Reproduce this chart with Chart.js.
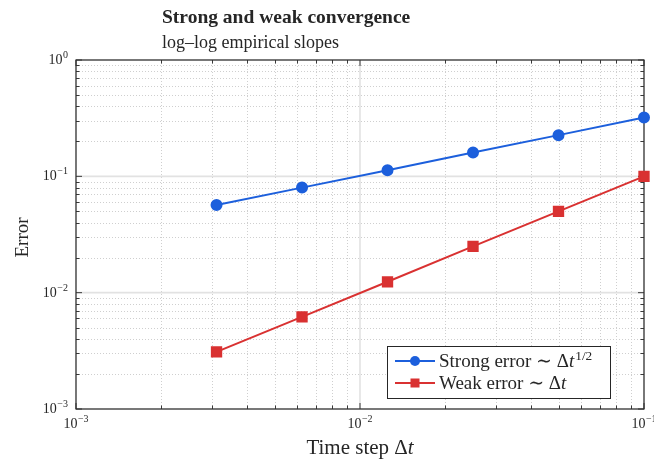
<!DOCTYPE html>
<html>
<head>
<meta charset="utf-8">
<script src="https://cdn.jsdelivr.net/npm/chart.js@4/dist/chart.umd.min.js"></script>
<style>
html,body{margin:0;padding:0;background:#fff;}
#wrap{width:654px;height:459px;}
</style>
</head>
<body>
<div id="wrap"><canvas id="c" width="654" height="459"></canvas></div>
<script>
// ---- data ----
const timeSteps   = [0.003125, 0.00625, 0.0125, 0.025, 0.05, 0.1];
const strongError = [0.0566, 0.080, 0.113, 0.160, 0.226, 0.320];
const weakError   = [0.0031, 0.0062, 0.0124, 0.0250, 0.0500, 0.1000];
const seriesNames = ['Strong error \u223C \u0394', 'Weak error \u223C \u0394'];
const seriesSup   = ['1/2', ''];
const xTickExps   = [-3, -2, -1];
const yTickExps   = [-3, -2, -1, 0];
const titleText    = 'Strong and weak convergence';
const subtitleText = 'log\u2013log empirical slopes';
const xLabelText   = 'Time step \u0394';
const yLabelText   = 'Error';

const SERIF = '"Liberation Serif", "DejaVu Serif", serif';
const BLUE = '#1c5fdc';
const RED = '#d93131';

function pts(xs, ys){ return xs.map((x,i)=>({x:x, y:ys[i]})); }

function drawPow(ctx, exp, x, y, mode){
  const base = '10';
  const sup = (exp < 0 ? '\u2212' : '') + Math.abs(exp);
  ctx.font = '14px ' + SERIF;
  const wb = ctx.measureText(base).width;
  ctx.font = '10px ' + SERIF;
  const ws = ctx.measureText(sup).width;
  const tot = wb + ws + 0.5;
  let sx = mode === 'center' ? x - tot/2 : x - tot;
  ctx.fillStyle = '#262626';
  ctx.textAlign = 'left';
  ctx.textBaseline = 'alphabetic';
  ctx.font = '14px ' + SERIF;
  ctx.fillText(base, sx, y);
  ctx.font = '10px ' + SERIF;
  ctx.fillText(sup, sx + wb + 0.5, y - 6);
}

const decorate = {
  id: 'decorate',
  beforeDatasetsDraw(chart){
    const ctx = chart.ctx, a = chart.chartArea;
    const xs = chart.scales.x, ys = chart.scales.y;
    ctx.save();
    const xMinor = [], yMinor = [];
    for (let e = xTickExps[0]; e < xTickExps[xTickExps.length-1]; e++)
      for (let k = 2; k <= 9; k++) xMinor.push(k*Math.pow(10,e));
    for (let e = yTickExps[0]; e < yTickExps[yTickExps.length-1]; e++)
      for (let k = 2; k <= 9; k++) yMinor.push(k*Math.pow(10,e));
    ctx.lineWidth = 1;
    ctx.strokeStyle = '#cfcfcf';
    ctx.setLineDash([1,2]);
    xMinor.forEach(v=>{ const p = Math.round(xs.getPixelForValue(v))+0.5;
      ctx.beginPath(); ctx.moveTo(p,a.top); ctx.lineTo(p,a.bottom); ctx.stroke(); });
    yMinor.forEach(v=>{ const p = Math.round(ys.getPixelForValue(v))+0.5;
      ctx.beginPath(); ctx.moveTo(a.left,p); ctx.lineTo(a.right,p); ctx.stroke(); });
    ctx.setLineDash([]);
    ctx.strokeStyle = '#e2e2e2';
    ctx.lineWidth = 1.6;
    xTickExps.forEach(e=>{ const p = xs.getPixelForValue(Math.pow(10,e));
      ctx.beginPath(); ctx.moveTo(p,a.top); ctx.lineTo(p,a.bottom); ctx.stroke(); });
    yTickExps.forEach(e=>{ const p = ys.getPixelForValue(Math.pow(10,e));
      ctx.beginPath(); ctx.moveTo(a.left,p); ctx.lineTo(a.right,p); ctx.stroke(); });
    ctx.strokeStyle = '#3a3a3a';
    ctx.lineWidth = 1;
    const tick = (x1,y1,x2,y2)=>{ ctx.beginPath(); ctx.moveTo(x1,y1); ctx.lineTo(x2,y2); ctx.stroke(); };
    xMinor.forEach(v=>{ const p = Math.round(xs.getPixelForValue(v))+0.5;
      tick(p,a.bottom,p,a.bottom-3.5); tick(p,a.top,p,a.top+3.5); });
    yMinor.forEach(v=>{ const p = Math.round(ys.getPixelForValue(v))+0.5;
      tick(a.left,p,a.left+3.5,p); tick(a.right,p,a.right-3.5,p); });
    xTickExps.forEach(e=>{ const p = xs.getPixelForValue(Math.pow(10,e));
      tick(p,a.bottom,p,a.bottom-6); tick(p,a.top,p,a.top+6); });
    yTickExps.forEach(e=>{ const p = ys.getPixelForValue(Math.pow(10,e));
      tick(a.left,p,a.left+6,p); tick(a.right,p,a.right-6,p); });
    ctx.strokeStyle = '#2e2e2e';
    ctx.lineWidth = 1.2;
    ctx.strokeRect(a.left, a.top, a.right-a.left, a.bottom-a.top);
    ctx.restore();
  },
  afterDatasetsDraw(chart){
    const ctx = chart.ctx, a = chart.chartArea;
    const xs = chart.scales.x, ys = chart.scales.y;
    ctx.save();
    xTickExps.forEach(e=> drawPow(ctx, e, xs.getPixelForValue(Math.pow(10,e)), a.bottom + 19, 'center'));
    yTickExps.forEach(e=> drawPow(ctx, e, a.left - 8, ys.getPixelForValue(Math.pow(10,e)) + 4, 'right'));
    ctx.fillStyle = '#262626';
    ctx.textBaseline = 'alphabetic';
    ctx.font = '21px ' + SERIF;
    const wx = ctx.measureText(xLabelText).width;
    ctx.font = 'italic 21px ' + SERIF;
    const wt = ctx.measureText('t').width;
    const cx = (a.left + a.right)/2;
    let sx = cx - (wx+wt)/2;
    ctx.textAlign = 'left';
    ctx.font = '21px ' + SERIF;
    ctx.fillText(xLabelText, sx, 454);
    ctx.font = 'italic 21px ' + SERIF;
    ctx.fillText('t', sx + wx, 454);
    ctx.save();
    ctx.translate(28, (a.top + a.bottom)/2 + 3);
    ctx.rotate(-Math.PI/2);
    ctx.textAlign = 'center';
    ctx.font = '19px ' + SERIF;
    ctx.fillText(yLabelText, 0, 0);
    ctx.restore();
    ctx.textAlign = 'left';
    ctx.font = 'bold 19.5px ' + SERIF;
    ctx.fillText(titleText, 162, 23);
    ctx.font = '18px ' + SERIF;
    ctx.fillText(subtitleText, 162, 48);
    // legend
    const fs = 19;
    const widths = seriesNames.map((n,i)=>{
      ctx.font = fs + 'px ' + SERIF; let w = ctx.measureText(n).width;
      ctx.font = 'italic ' + fs + 'px ' + SERIF; w += ctx.measureText('t').width + 1;
      if (seriesSup[i]) { ctx.font = (fs*0.7) + 'px ' + SERIF; w += ctx.measureText(seriesSup[i]).width + 1; }
      return w;
    });
    const boxW = Math.max(8 + 40 + 4 + Math.max(...widths) + 8, 223);
    const boxH = 52;
    const bx = a.right - 34 - boxW, by = a.bottom - 11 - boxH;
    ctx.fillStyle = '#ffffff';
    ctx.fillRect(bx, by, boxW, boxH);
    ctx.strokeStyle = '#262626';
    ctx.lineWidth = 1;
    ctx.strokeRect(Math.round(bx)+0.5, Math.round(by)+0.5, Math.round(boxW), boxH);
    chart.data.datasets.forEach((ds,i)=>{
      const cy = by + 15 + i*22;
      ctx.strokeStyle = ds.borderColor; ctx.lineWidth = 2;
      ctx.beginPath(); ctx.moveTo(bx+8, cy); ctx.lineTo(bx+48, cy); ctx.stroke();
      ctx.fillStyle = ds.backgroundColor;
      if (ds.pointStyle === 'circle') { ctx.beginPath(); ctx.arc(bx+28, cy, 5, 0, Math.PI*2); ctx.fill(); }
      else { ctx.fillRect(bx+28-4.5, cy-4.5, 9, 9); }
      ctx.fillStyle = '#262626';
      let tx = bx + 52;
      const base = cy + 6;
      ctx.font = fs + 'px ' + SERIF; ctx.fillText(seriesNames[i], tx, base);
      tx += ctx.measureText(seriesNames[i]).width;
      ctx.font = 'italic ' + fs + 'px ' + SERIF; ctx.fillText('t', tx, base);
      tx += ctx.measureText('t').width + 1;
      if (seriesSup[i]) { ctx.font = (fs*0.7) + 'px ' + SERIF; ctx.fillText(seriesSup[i], tx, base - 7); }
    });
    ctx.restore();
  }
};

new Chart(document.getElementById('c'), {
  type: 'scatter',
  data: {
    datasets: [
      { label: 'Strong', data: pts(timeSteps, strongError), showLine: true,
        borderColor: BLUE, backgroundColor: BLUE, borderWidth: 2,
        pointStyle: 'circle', pointRadius: 5, pointHoverRadius: 5, clip: false },
      { label: 'Weak', data: pts(timeSteps, weakError), showLine: true,
        borderColor: RED, backgroundColor: RED, borderWidth: 2,
        pointStyle: 'rect', pointRadius: 6.6, pointHoverRadius: 6.6, clip: false }
    ]
  },
  options: {
    responsive: false,
    animation: false,
    devicePixelRatio: 1,
    layout: { padding: { left: 76, right: 10, top: 60, bottom: 50 } },
    plugins: { legend: { display: false }, tooltip: { enabled: false }, title: { display: false } },
    scales: {
      x: { type: 'logarithmic', min: 1e-3, max: 1e-1, display: false },
      y: { type: 'logarithmic', min: 1e-3, max: 1e0, display: false }
    }
  },
  plugins: [decorate]
});
</script>
</body>
</html>
